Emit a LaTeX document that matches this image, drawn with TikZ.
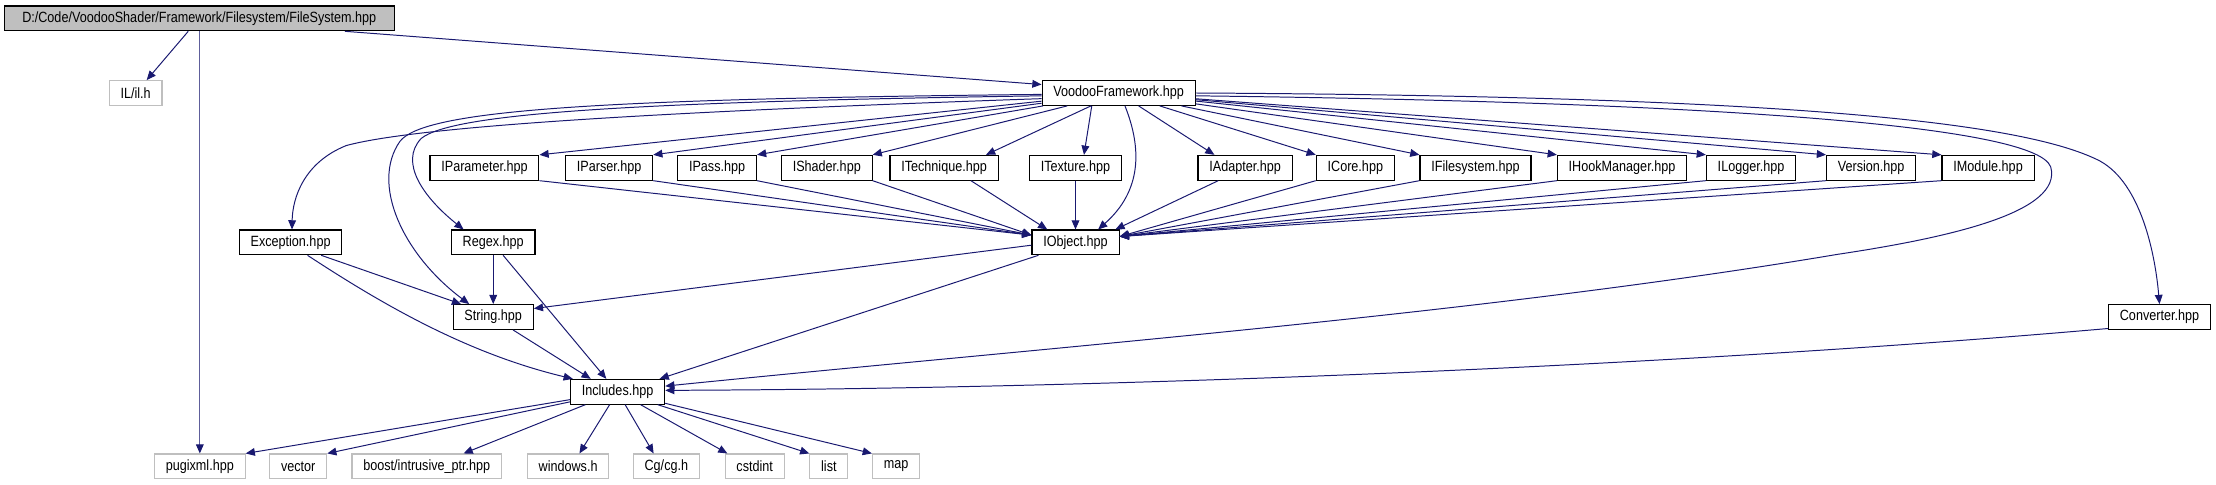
\documentclass[tikz,border=0pt]{standalone}
\usepackage{fontspec}
\newfontfamily\dxfont{Liberation Sans}[FakeStretch=0.85]
\usetikzlibrary{arrows.meta,calc}
\definecolor{mblue}{HTML}{191970}
\definecolor{grayfill}{HTML}{BFBFBF}
\definecolor{grayline}{HTML}{BFBFBF}
\tikzset{
  box/.style={draw=black, line width=0.8pt, fill=white, text=black,
    font=\dxfont\fontsize{10.5}{12}\selectfont, inner xsep=8pt, inner ysep=0pt,
    minimum height=17.5pt},
  ext/.style={box, draw=grayline},
  root/.style={box, fill=grayfill},
  dep/.style={draw=mblue, line width=0.7pt, -{Triangle[length=6.5pt,width=5.5pt,color=mblue]}, fill=none},
}
\begin{document}
\begin{tikzpicture}[x=1pt,y=-1pt]
\useasboundingbox (0,0) rectangle (1568,343);
% ranks: 13, 65.8, 118.7, 171.5, 224.3, 277.2, 330
\node[root, minimum width=276pt] (FS) at (141,13) {D:/Code/VoodooShader/Framework/Filesystem/FileSystem.hpp};
\node[ext] (IL) at (96,65.8) {IL/il.h};
\node[box] (VF) at (791.5,65.8) {VoodooFramework.hpp};
\node[box] (IParameter) at (342.8,118.7) {IParameter.hpp};
\node[box] (IParser) at (431,118.7) {IParser.hpp};
\node[box] (IPass) at (507.4,118.7) {IPass.hpp};
\node[box] (IShader) at (585,118.7) {IShader.hpp};
\node[box] (ITechnique) at (668,118.7) {ITechnique.hpp};
\node[box] (ITexture) at (761,118.7) {ITexture.hpp};
\node[box] (IAdapter) at (881,118.7) {IAdapter.hpp};
\node[box] (ICore) at (959,118.7) {ICore.hpp};
\node[box] (IFilesystem) at (1044,118.7) {IFilesystem.hpp};
\node[box] (IHookManager) at (1147.7,118.7) {IHookManager.hpp};
\node[box] (ILogger) at (1239,118.7) {ILogger.hpp};
\node[box] (Version) at (1324,118.7) {Version.hpp};
\node[box] (IModule) at (1406.7,118.7) {IModule.hpp};
\node[box] (Exception) at (205.6,171.5) {Exception.hpp};
\node[box] (Regex) at (349,171.5) {Regex.hpp};
\node[box] (IObject) at (761,171.5) {IObject.hpp};
\node[box] (String) at (349,224.3) {String.hpp};
\node[box] (Converter) at (1528,224.3) {Converter.hpp};
\node[box] (Includes) at (437,277.2) {Includes.hpp};
\node[ext] (pugixml) at (141.4,330) {pugixml.hpp};
\node[ext] (vector) at (211,330) {vector};
\node[ext] (boost) at (302,330) {boost/intrusive\_ptr.hpp};
\node[ext] (windows) at (402,330) {windows.h};
\node[ext] (cg) at (471.5,330) {Cg/cg.h};
\node[ext] (cstdint) at (534,330) {cstdint};
\node[ext] (list) at (586.5,330) {list};
\node[ext] (map) at (634,330) {map};
% edges from FileSystem
\draw[dep] (FS) -- (IL);
\draw[dep, draw=mblue!70] (FS.south -| pugixml.north) -- (pugixml.north);
\draw[dep] ([xshift=103pt]FS.south) -- ([yshift=6pt]VF.west);
% VoodooFramework -> interfaces (left ones)
\foreach \n in {IParameter,IParser,IPass,IShader}
  {\draw[dep] (VF) -- (\n.north east); \draw[dep] (\n.south east) -- ([yshift=-4pt]IObject.north west);}
\draw[dep] (VF) -- ([xshift=-9pt]ITechnique.north east);
\draw[dep] ([xshift=19pt]ITechnique.south) -- ([xshift=-20pt]IObject.north);
\draw[dep] ([xshift=-19pt]VF.south) -- ([xshift=6pt]ITexture.north);
\draw[dep] (ITexture) -- (IObject);
\draw[dep] (VF) -- ([xshift=12pt]IAdapter.north west);
\draw[dep] ([xshift=-19pt]IAdapter.south) -- ([xshift=-3pt]IObject.north east);
% right ones
\foreach \n in {ICore,IFilesystem,IHookManager,ILogger,Version,IModule}
  {\draw[dep] (VF) -- (\n.north west); \draw[dep] (\n.south west) -- ([yshift=-5pt]IObject.north east);}
% VoodooFramework curves
\draw[dep] ([yshift=-4pt]VF.west) .. controls (500,78) and (300,88) .. (245,103)
   .. controls (215,115) and (207,140) .. ([xshift=1pt]Exception.north);
\draw[dep] ([yshift=-2pt]VF.west) .. controls (450,72) and (320,80) .. (298,98)
   .. controls (282,115) and (300,140) .. ([xshift=-21pt]Regex.north);
\draw[dep] ([yshift=-1pt]VF.west) .. controls (420,70) and (300,78) .. (283,100)
   .. controls (262,130) and (285,180) .. ([xshift=-17pt]String.north);
\draw[dep] ([xshift=4.5pt]VF.south) .. controls (808,105) and (808,135) .. ([xshift=16pt]IObject.north);
\draw[dep] ([yshift=-2pt]VF.east) .. controls (1200,72) and (1440,88) .. (1451,118)
   .. controls (1460,150) and (1380,168) .. (1300,180)
   .. controls (1050,222) and (750,245) .. ([yshift=4pt]Includes.east);
\draw[dep] ([yshift=0pt]VF.east) .. controls (1250,68) and (1430,85) .. (1486,114)
   .. controls (1515,130) and (1525,180) .. (Converter.north);
% third level
\draw[dep] ([yshift=-2pt]IObject.west) -- ([yshift=6pt]String.east);
\draw[dep] ([xshift=5pt]IObject.south west) -- ([xshift=-4pt]Includes.north east);
\draw[dep] ([xshift=-15pt]Exception.south east) -- ([xshift=6pt]String.north west);
\draw[dep] ([xshift=12pt]Exception.south) .. controls (270,215) and (330,250) .. ([xshift=2pt]Includes.north west);
\draw[dep] (Regex) -- (String);
\draw[dep] ([xshift=7pt]Regex.south) -- ([xshift=-8pt]Includes.north);
\draw[dep] ([xshift=14pt]String.south) -- ([xshift=-19pt]Includes.north);
\draw[dep] ([yshift=1pt]Converter.south west) .. controls (1200,258) and (800,275) .. ([yshift=1pt]Includes.east);
% includes -> system headers
\draw[dep] (Includes) -- (pugixml.north east);
\draw[dep] (Includes) -- (vector.north east);
\draw[dep] (Includes) -- ([xshift=26pt]boost.north);
\draw[dep] (Includes) -- ([xshift=8pt]windows.north);
\draw[dep] (Includes) -- ([xshift=-9pt]cg.north);
\draw[dep] (Includes) -- ([xshift=2pt]cstdint.north west);
\draw[dep] (Includes) -- (list.north west);
\draw[dep] (Includes) -- (map.north west);
\end{tikzpicture}
\end{document}
